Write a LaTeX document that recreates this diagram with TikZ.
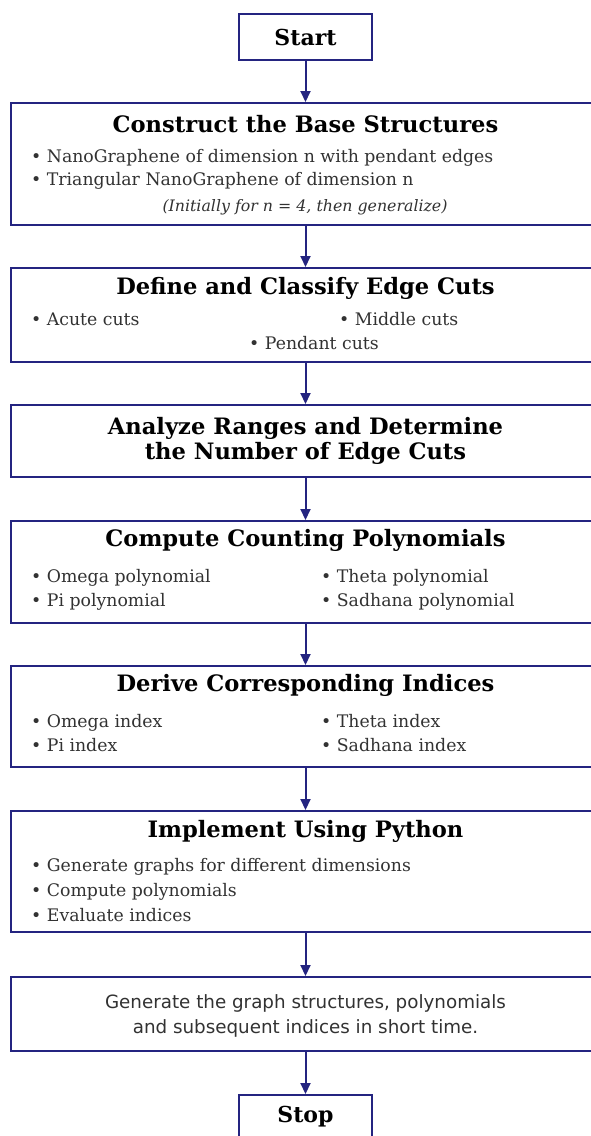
\documentclass[tikz,border=0pt]{standalone}
\usepackage{fontspec}
\setmainfont{DejaVu Serif}
\newfontfamily\plainsans{DejaVu Sans}
\usetikzlibrary{arrows.meta}
\definecolor{frame}{RGB}{36,36,128}
\definecolor{bodytext}{RGB}{50,50,50}
\tikzset{
  x=1pt, y=1pt,
  stepbox/.style={draw=frame, line width=2pt, fill=white, inner sep=0pt, minimum width=589pt},
  endbox/.style={draw=frame, line width=2pt, fill=white, inner sep=0pt, minimum width=133pt},
  title/.style={font=\fontsize{22.6}{25}\selectfont\bfseries, text=black, inner sep=0pt, align=center},
  term/.style={font=\fontsize{22}{26}\selectfont\bfseries, text=black, inner sep=0pt},
  item/.style={font=\fontsize{17.3}{20}\selectfont, text=bodytext, inner sep=0pt, anchor=west,
               text height=13pt, text depth=4pt},
  note/.style={font=\fontsize{15.8}{18}\selectfont\itshape, text=bodytext, inner sep=0pt},
  flow/.style={draw=frame, line width=2pt, -{Triangle[length=11pt,width=10pt]}}
}
\newcommand{\bul}{\textbullet\ }
\begin{document}
\begin{tikzpicture}
\useasboundingbox (0,0) rectangle (591,-1136);

% terminal box at the top
\node[endbox, minimum height=46pt] (start) at (305.5,-37) {};
\node[term] (starttxt) at (305.5,-37) {Start};

% step 1
\node[stepbox, minimum height=122pt] (b1) at (305.5,-164) {};
\node[title] (t1) at (305.5,-124) {Construct the Base Structures};
\node[item] (i11) at (31,-158) {\bul NanoGraphene of dimension n with pendant edges};
\node[item] (i12) at (31,-181) {\bul Triangular NanoGraphene of dimension n};
\node[note] (n1) at (305,-207) {(Initially for n = 4, then generalize)};

% step 2
\node[stepbox, minimum height=94pt] (b2) at (305.5,-315) {};
\node[title] (t2) at (305.5,-288) {Define and Classify Edge Cuts};
\node[item] (i21) at (31,-321) {\bul Acute cuts};
\node[item] (i22) at (339,-321) {\bul Middle cuts};
\node[item] (i23) at (249,-345) {\bul Pendant cuts};

% step 3
\node[stepbox, minimum height=72pt] (b3) at (305.5,-441) {};
\node[title] (t3) at (305.5,-441) {Analyze Ranges and Determine\\the Number of Edge Cuts};

% step 4
\node[stepbox, minimum height=102pt] (b4) at (305.5,-572) {};
\node[title] (t4) at (305.5,-540) {Compute Counting Polynomials};
\node[item] (i41) at (31,-578) {\bul Omega polynomial};
\node[item] (i42) at (31,-602) {\bul Pi polynomial};
\node[item] (i43) at (321,-578) {\bul Theta polynomial};
\node[item] (i44) at (321,-602) {\bul Sadhana polynomial};

% step 5
\node[stepbox, minimum height=101pt] (b5) at (305.5,-716.5) {};
\node[title] (t5) at (305.5,-685) {Derive Corresponding Indices};
\node[item] (i51) at (31,-723) {\bul Omega index};
\node[item] (i52) at (31,-747) {\bul Pi index};
\node[item] (i53) at (321,-723) {\bul Theta index};
\node[item] (i54) at (321,-747) {\bul Sadhana index};

% step 6
\node[stepbox, minimum height=121pt] (b6) at (305.5,-871.5) {};
\node[title] (t6) at (305.5,-831) {Implement Using Python};
\node[item] (i61) at (31,-867) {\bul Generate graphs for different dimensions};
\node[item] (i62) at (31,-892) {\bul Compute polynomials};
\node[item] (i63) at (31,-917) {\bul Evaluate indices};

% step 7
\node[stepbox, minimum height=74pt] (b7) at (305.5,-1014) {};
\node[font=\plainsans\fontsize{18.3}{25}\selectfont, text=bodytext, align=center, inner sep=0pt] (t7) at (305.5,-1015.5)
  {Generate the graph structures, polynomials\\and subsequent indices in short time.};

% terminal box at the bottom
\node[endbox, minimum height=50pt, anchor=north] (stop) at (305.5,-1094) {};
\node[term] (stoptxt) at (305.5,-1117) {Stop};

% connectors
\draw[flow] (start.south) -- (b1.north);
\draw[flow] (b1.south) -- (b2.north);
\draw[flow] (b2.south) -- (b3.north);
\draw[flow] (b3.south) -- (b4.north);
\draw[flow] (b4.south) -- (b5.north);
\draw[flow] (b5.south) -- (b6.north);
\draw[flow] (b6.south) -- (b7.north);
\draw[flow] (b7.south) -- (stop.north);
\end{tikzpicture}
\end{document}
